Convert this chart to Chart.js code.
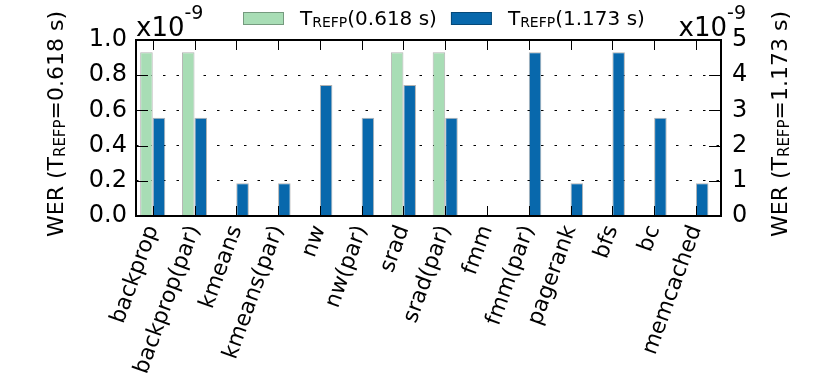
<!DOCTYPE html>
<html>
<head>
<meta charset="utf-8">
<script src="https://cdn.jsdelivr.net/npm/chart.js@4.4.1/dist/chart.umd.min.js"></script>
<style>
  body { margin: 0; background: #fff; }
  #wrap { width: 830px; height: 374px; position: relative; }
</style>
</head>
<body>
<div id="wrap"><canvas id="werChart"></canvas></div>
<script>
// benchmarks on the x axis
const benchmarks = ['backprop', 'backprop(par)', 'kmeans', 'kmeans(par)', 'nw', 'nw(par)',
    'srad', 'srad(par)', 'fmm', 'fmm(par)', 'pagerank', 'bfs', 'bc', 'memcached'];

// WER x1e-9, T_REFP = 0.618 s (left axis)
const werShort = [0.93, 0.93, 0, 0, 0, 0, 0.93, 0.93, 0, 0, 0, 0, 0, 0];
// WER x1e-9, T_REFP = 1.173 s (right axis)
const werLong = [2.79, 2.79, 0.93, 0.93, 3.72, 2.79, 3.72, 2.79, 0, 4.65, 0.93, 4.65, 2.79, 0.93];

const leftTicks = [0, 0.2, 0.4, 0.6, 0.8, 1.0];
const rightTicks = [0, 1, 2, 3, 4, 5];

const FONT = "'DejaVu Sans', sans-serif";
const GREEN = '#a8ddb5';
const BLUE = '#0868ac';

// draws text pieces one after the other (for the REFP subscript)
function drawParts(ctx, parts, x, y, align) {
    let total = 0;
    parts.forEach(p => {
        ctx.font = p.size + 'px ' + FONT;
        p.w = ctx.measureText(p.t).width;
        total += p.w;
    });
    let cx = x;
    if (align === 'center') cx = x - total / 2;
    if (align === 'right') cx = x - total;
    ctx.textAlign = 'left';
    ctx.textBaseline = 'alphabetic';
    parts.forEach(p => {
        ctx.font = p.size + 'px ' + FONT;
        ctx.fillText(p.t, cx, y + (p.dy || 0));
        cx += p.w;
    });
    return total;
}

function refpLabel(before, after, size, sub) {
    return [
        { t: before + 'T', size: size },
        { t: 'REFP', size: sub, dy: 2 },
        { t: after, size: size }
    ];
}

const offsetText = [{ t: 'x10', size: 26 }, { t: '-9', size: 19, dy: -17 }];

const framePlugin = {
    id: 'frame',
    afterDatasetsDraw(chart) {
        const { ctx, chartArea: a, scales } = chart;
        ctx.save();
        ctx.strokeStyle = '#000';
        ctx.lineWidth = 1;
        ctx.beginPath();
        benchmarks.forEach((_, i) => {
            const px = Math.round(scales.x.getPixelForValue(i)) + 0.5;
            ctx.moveTo(px, a.top); ctx.lineTo(px, a.top + 10);
            ctx.moveTo(px, a.bottom); ctx.lineTo(px, a.bottom - 10);
        });
        leftTicks.forEach(v => {
            const py = Math.round(scales.y.getPixelForValue(v)) + 0.5;
            ctx.moveTo(a.left, py); ctx.lineTo(a.left + 12, py);
        });
        rightTicks.forEach(v => {
            const py = Math.round(scales.y1.getPixelForValue(v)) + 0.5;
            ctx.moveTo(a.right, py); ctx.lineTo(a.right - 12, py);
        });
        ctx.stroke();
        ctx.lineWidth = 2;
        ctx.strokeRect(a.left, a.top, a.right - a.left, a.bottom - a.top);
        ctx.restore();
    },
    afterDraw(chart) {
        const { ctx, chartArea: a } = chart;
        ctx.save();
        ctx.fillStyle = '#000';

        // offset text x10^-9 on both axes
        drawParts(ctx, offsetText, a.left, 36, 'left');
        drawParts(ctx, offsetText, a.right + 25, 36, 'right');

        // legend
        const items = [
            { color: GREEN, label: '(0.618 s)' },
            { color: BLUE, label: '(1.173 s)' }
        ];
        let lx = 243;
        items.forEach(it => {
            ctx.fillStyle = it.color;
            ctx.fillRect(lx, 12, 41, 13);
            ctx.strokeStyle = 'rgba(0,0,0,0.3)';
            ctx.lineWidth = 1;
            ctx.strokeRect(lx + 0.5, 12.5, 40, 12);
            ctx.fillStyle = '#000';
            const w = drawParts(ctx, refpLabel('', it.label, 20, 14), lx + 57, 25, 'left');
            lx += 57 + w + 14;
        });

        // axis titles
        const midY = (a.top + a.bottom) / 2 - 4;
        ctx.save();
        ctx.translate(63, midY);
        ctx.rotate(-Math.PI / 2);
        drawParts(ctx, refpLabel('WER (', '=0.618 s)', 22, 15), 0, 0, 'center');
        ctx.restore();
        ctx.save();
        ctx.translate(787, midY);
        ctx.rotate(-Math.PI / 2);
        drawParts(ctx, refpLabel('WER (', '=1.173 s)', 22, 15), 0, 0, 'center');
        ctx.restore();

        ctx.restore();
    }
};

new Chart(document.getElementById('werChart'), {
    type: 'bar',
    data: {
        datasets: [{
            label: 'T_REFP(0.618 s)',
            data: werShort.map((v, i) => ({ x: i, y: v })),
            backgroundColor: GREEN,
            borderColor: 'rgba(0,0,0,0.3)',
            borderWidth: 1,
            yAxisID: 'y'
        }, {
            label: 'T_REFP(1.173 s)',
            data: werLong.map((v, i) => ({ x: i, y: v })),
            backgroundColor: BLUE,
            borderColor: 'rgba(0,0,0,0.3)',
            borderWidth: 1,
            yAxisID: 'y1'
        }]
    },
    options: {
        responsive: true,
        maintainAspectRatio: false,
        animation: false,
        categoryPercentage: 0.6,
        barPercentage: 1.0,
        layout: { padding: { top: 40 } },
        plugins: { legend: { display: false }, tooltip: { enabled: false } },
        scales: {
            x: {
                type: 'linear',
                offset: false,
                min: -0.4,
                max: 13.6,
                afterBuildTicks: scale => { scale.ticks = benchmarks.map((_, i) => ({ value: i })); },
                afterFit: scale => { scale.height = 158; },
                grid: { display: false, drawTicks: false, offset: false },
                border: { display: false },
                ticks: {
                    autoSkip: false,
                    maxRotation: 70,
                    minRotation: 70,
                    padding: 6,
                    color: '#000',
                    font: { family: FONT, size: 22 },
                    callback: v => benchmarks[v]
                }
            },
            y: {
                position: 'left',
                min: 0,
                max: 1.0,
                afterFit: scale => { scale.width = 136; },
                afterBuildTicks: scale => { scale.ticks = leftTicks.map(v => ({ value: v })); },
                grid: {
                    drawTicks: false,
                    color: ctx => (ctx.tick && ctx.tick.value > 0 && ctx.tick.value < 1) ? '#000' : 'rgba(0,0,0,0)',
                    lineWidth: 1
                },
                border: { display: false, dash: [2.5, 11] },
                ticks: {
                    padding: 9,
                    color: '#000',
                    font: { family: FONT, size: 24 },
                    callback: v => v.toFixed(1)
                }
            },
            y1: {
                position: 'right',
                min: 0,
                max: 5,
                afterFit: scale => { scale.width = 109; },
                afterBuildTicks: scale => { scale.ticks = rightTicks.map(v => ({ value: v })); },
                border: { display: false },
                grid: { display: false, drawTicks: false },
                ticks: {
                    padding: 11,
                    color: '#000',
                    font: { family: FONT, size: 24 },
                    callback: v => String(v)
                }
            }
        }
    },
    plugins: [framePlugin]
});
</script>
</body>
</html>
